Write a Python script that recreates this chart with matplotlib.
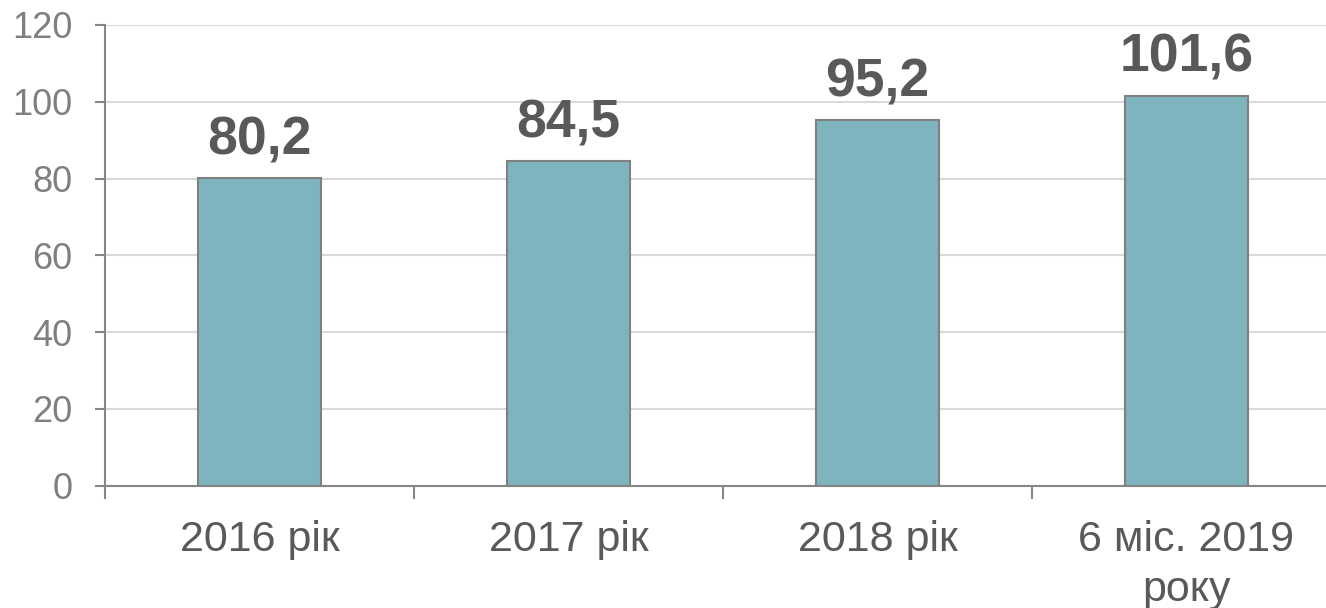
import matplotlib
matplotlib.use("Agg")
import matplotlib.pyplot as plt
import numpy as np

categories = ["2016 рік", "2017 рік", "2018 рік", "6 міс. 2019\nроку"]
values = [80.2, 84.5, 95.2, 101.6]
value_labels = ["80,2", "84,5", "95,2", "101,6"]
yticks = [0, 20, 40, 60, 80, 100, 120]

plt.rcParams['font.family'] = ['Liberation Sans', 'DejaVu Sans']

fig = plt.figure(figsize=(13.26, 6.08), dpi=100)
W, H = 1326, 608
left, right, top, bottom = 105, 1341, 25, 485.5
ax = fig.add_axes([left / W, 1 - bottom / H, (right - left) / W, (bottom - top) / H])

x = np.arange(len(categories))
ax.bar(x, values, width=0.4, color="#7EB4BE", edgecolor="#808080", linewidth=1.5, zorder=3)

for xi, v, lab in zip(x, values, value_labels):
    ax.annotate(lab, (xi, v), xytext=(0, 17), textcoords="offset points",
                ha="center", va="baseline", fontsize=38.5, fontweight="bold",
                color="#595959", zorder=4)

ax.set_xlim(-0.5, len(categories) - 0.5)
ax.set_ylim(0, 120)
ax.set_yticks(yticks)
ax.set_yticklabels([str(t) for t in yticks])
ax.grid(axis="y", color="#D9D9D9", linewidth=1.5, zorder=0)
ax.set_axisbelow(True)

ax.set_xticks(x)
ax.set_xticklabels(categories, fontsize=31, color="#595959", linespacing=1.3)
ax.set_xticks(np.arange(-0.5, len(categories) + 0.5, 1), minor=True)
ax.tick_params(axis="x", which="major", length=0, pad=25)
ax.tick_params(axis="x", which="minor", length=9, width=1.5, color="#868686")
ax.tick_params(axis="y", length=7.5, width=1.5, color="#868686", labelsize=26,
               labelcolor="#7F7F7F", pad=16)

for s in ["top", "right"]:
    ax.spines[s].set_visible(False)
for s in ["left", "bottom"]:
    ax.spines[s].set_color("#868686")
    ax.spines[s].set_linewidth(1.5)

fig.savefig("out.png", dpi=100)
